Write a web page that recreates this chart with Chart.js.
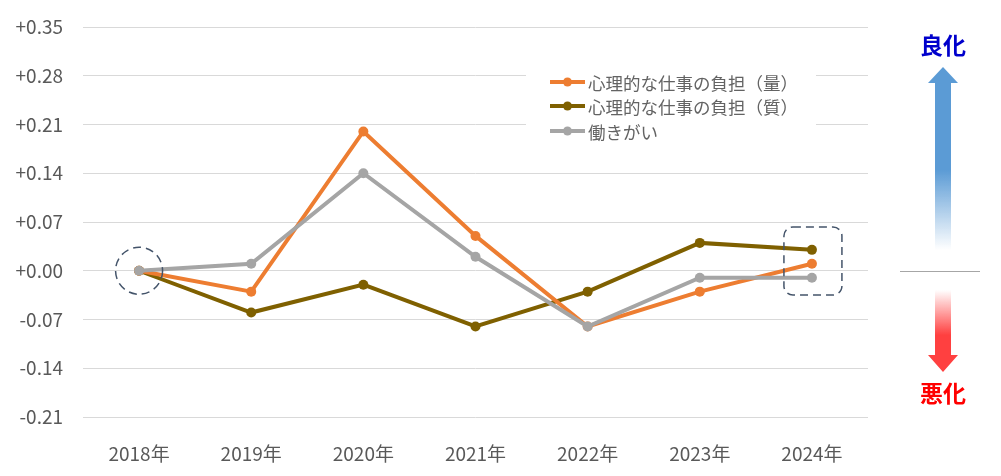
<!DOCTYPE html>
<html>
<head>
<meta charset="utf-8">
<script src="https://cdn.jsdelivr.net/npm/chart.js@4.4.1/dist/chart.umd.min.js"></script>
<style>
  html, body { margin: 0; padding: 0; background: #fff; }
  #wrap { width: 1001px; height: 476px; position: relative; }
</style>
</head>
<body>
<div id="wrap"><canvas id="chart"></canvas></div>
<script>
// data
const years = ['2018年', '2019年', '2020年', '2021年', '2022年', '2023年', '2024年'];
const burdenQuantity = [0, -0.03, 0.20, 0.05, -0.08, -0.03, 0.01];
const burdenQuality = [0, -0.06, -0.02, -0.08, -0.03, 0.04, 0.03];
const engagement = [0, 0.01, 0.14, 0.02, -0.08, -0.01, -0.01];
const seriesNames = ['心理的な仕事の負担（量）', '心理的な仕事の負担（質）', '働きがい'];
const seriesColors = ['#ED7D31', '#7F6000', '#A5A5A5'];

const FONT = '"Noto Sans CJK JP", "Noto Sans", sans-serif';
const TEXT = '#595959';

// legend drawn by hand so the order stays while grey is painted on top
const legendBox = {
    id: 'legendBox',
    beforeDatasetsDraw(chart) {
        const ctx = chart.ctx;
        ctx.save();
        ctx.fillStyle = '#fff';
        ctx.fillRect(526, 62, 290, 86);
        const rows = [82, 106, 131];
        seriesNames.forEach((name, i) => {
            ctx.strokeStyle = seriesColors[i];
            ctx.lineWidth = 4;
            ctx.beginPath();
            ctx.moveTo(550, rows[i]);
            ctx.lineTo(585, rows[i]);
            ctx.stroke();
            ctx.fillStyle = seriesColors[i];
            ctx.beginPath();
            ctx.arc(567.5, rows[i], 4.5, 0, Math.PI * 2);
            ctx.fill();
            ctx.fillStyle = '#636363';
            ctx.font = '17.5px ' + FONT;
            ctx.textBaseline = 'middle';
            ctx.textAlign = 'left';
            ctx.fillText(name, 588, rows[i] + 1);
        });
        ctx.restore();
    }
};

const marks = {
    id: 'marks',
    afterDraw(chart) {
        const ctx = chart.ctx;
        const x = chart.scales.x;
        const y = chart.scales.y;
        ctx.save();
        ctx.strokeStyle = '#44546A';
        ctx.lineWidth = 1.5;
        ctx.setLineDash([8, 5]);
        // circle round the 2018 start point
        ctx.beginPath();
        ctx.arc(x.getPixelForValue(0), y.getPixelForValue(0), 23.5, 0, Math.PI * 2);
        ctx.stroke();
        // rounded box round the 2024 points
        const cx = x.getPixelForValue(6);
        ctx.beginPath();
        ctx.roundRect(cx - 28, 227, 58, 68, 9);
        ctx.stroke();
        ctx.setLineDash([]);

        // right-hand legend of direction
        const ax = 943;
        ctx.strokeStyle = '#A6A6A6';
        ctx.lineWidth = 1;
        ctx.beginPath();
        ctx.moveTo(900, 271.5);
        ctx.lineTo(980, 271.5);
        ctx.stroke();

        let g = ctx.createLinearGradient(0, 170, 0, 250);
        g.addColorStop(0, 'rgba(91,155,213,1)');
        g.addColorStop(1, 'rgba(91,155,213,0)');
        ctx.fillStyle = g;
        ctx.beginPath();
        ctx.moveTo(ax, 67);
        ctx.lineTo(ax + 15, 83);
        ctx.lineTo(ax + 8, 83);
        ctx.lineTo(ax + 8, 252);
        ctx.lineTo(ax - 8, 252);
        ctx.lineTo(ax - 8, 83);
        ctx.lineTo(ax - 15, 83);
        ctx.closePath();
        ctx.fill();

        g = ctx.createLinearGradient(0, 290, 0, 335);
        g.addColorStop(0, 'rgba(255,64,64,0)');
        g.addColorStop(1, 'rgba(255,64,64,1)');
        ctx.fillStyle = g;
        ctx.beginPath();
        ctx.moveTo(ax - 8, 290);
        ctx.lineTo(ax + 8, 290);
        ctx.lineTo(ax + 8, 355);
        ctx.lineTo(ax + 15, 355);
        ctx.lineTo(ax, 372);
        ctx.lineTo(ax - 15, 355);
        ctx.lineTo(ax - 8, 355);
        ctx.closePath();
        ctx.fill();

        ctx.font = 'bold 23px ' + FONT;
        ctx.textAlign = 'center';
        ctx.textBaseline = 'middle';
        ctx.fillStyle = '#0000CC';
        ctx.fillText('良化', ax, 45);
        ctx.fillStyle = '#FF0000';
        ctx.fillText('悪化', ax, 393);
        ctx.restore();
    }
};

const fmt = v => {
    const r = Math.round(v * 100) / 100;
    return (r >= 0 ? '+' : '') + (r === 0 ? 0 : r).toFixed(2);
};

function line(i, values, order) {
    return {
        label: seriesNames[i],
        data: values,
        borderColor: seriesColors[i],
        backgroundColor: seriesColors[i],
        borderWidth: 4,
        pointRadius: 5,
        pointBorderWidth: 0,
        pointHoverRadius: 5,
        tension: 0,
        order: order
    };
}

new Chart(document.getElementById('chart'), {
    type: 'line',
    data: {
        labels: years,
        datasets: [
            line(0, burdenQuantity, 1),
            line(1, burdenQuality, 2),
            line(2, engagement, 0)
        ]
    },
    options: {
        responsive: true,
        maintainAspectRatio: false,
        animation: false,
        layout: { padding: { top: 27, right: 133, bottom: 0, left: 0 } },
        plugins: {
            legend: { display: false },
            tooltip: { enabled: false }
        },
        scales: {
            x: {
                offset: true,
                grid: { display: false },
                border: { display: false },
                ticks: { color: TEXT, font: { family: FONT, size: 19 }, padding: 17 },
                afterFit: s => { s.height = 59; }
            },
            y: {
                min: -0.21,
                max: 0.35,
                grid: { color: '#D9D9D9', lineWidth: 1, drawTicks: false },
                border: { display: false },
                ticks: {
                    stepSize: 0.07,
                    color: TEXT,
                    font: { family: FONT, size: 19 },
                    padding: 20,
                    callback: v => fmt(v)
                },
                afterFit: s => {
                    s.width = 83;
                    s.paddingTop = 0;
                    s.paddingBottom = 0;
                }
            }
        }
    },
    plugins: [legendBox, marks]
});
</script>
</body>
</html>
